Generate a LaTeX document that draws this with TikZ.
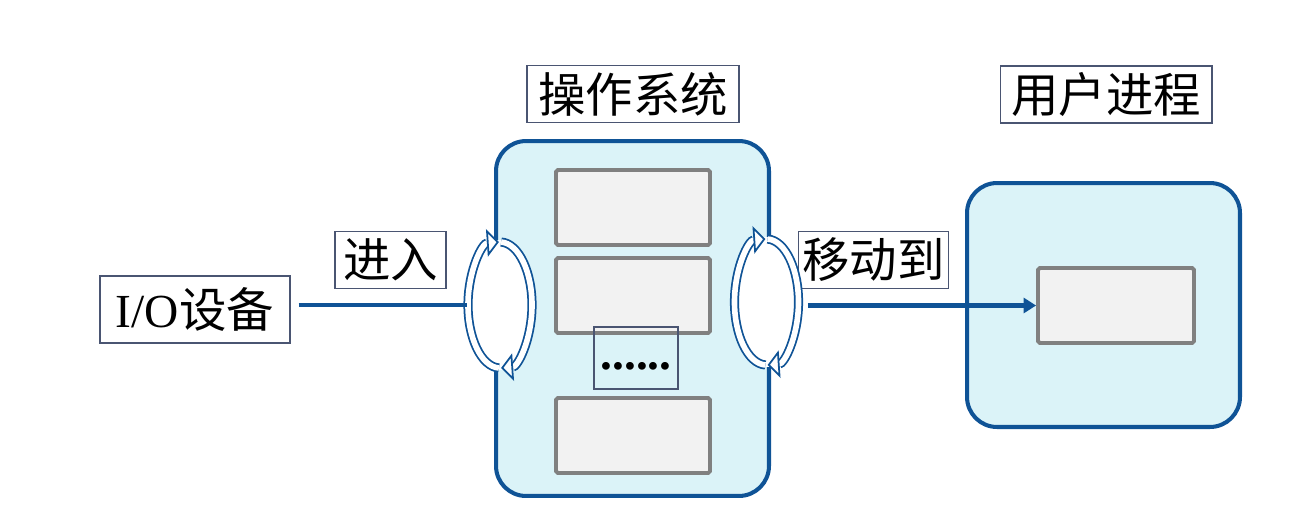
\documentclass[tikz,border=0pt]{standalone}
\usepackage{fontspec}
\setmainfont{Liberation Serif}
\newfontfamily\cjk{Noto Sans CJK SC}
\usetikzlibrary{arrows.meta,shapes.geometric}
\definecolor{cBlue}{HTML}{0F5396}
\definecolor{cPanel}{HTML}{DBF3F8}
\definecolor{cGray}{HTML}{808080}
\definecolor{cCell}{HTML}{F2F2F2}
\definecolor{cFrame}{HTML}{4A5572}
\newcommand{\bigfont}{\fontsize{27pt}{32pt}\selectfont}
\tikzset{
  panel/.style={draw=cBlue, line width=2.3pt, fill=cPanel, rounded corners=0.6cm, minimum width=5.46cm},
  cell/.style={draw=cGray, line width=2.2pt, fill=cCell, rounded corners=1pt, minimum width=3.08cm, minimum height=1.5cm},
  tag/.style={draw=cFrame, line width=0.6pt, fill=white, font=\bigfont\cjk, inner sep=2pt, minimum height=1.14cm},
  gate/.style={ellipse, fill=white, minimum width=1.32cm, minimum height=2.6cm, inner sep=0pt},
  swirl/.style={draw=cBlue, line width=1pt, double=white, double distance=3.2pt,
    -{Triangle[length=0.24cm, width=0.55cm, fill=white]}},
  flow/.style={draw=cBlue, line width=2.8pt, shorten <=0.16cm},
}

\begin{document}
\begin{tikzpicture}[x=0.02cm, y=-0.02cm]
  \useasboundingbox (0,0) rectangle (1312,518);
  % operating system
  \node[panel, minimum height=7.1cm] (os) at (632.5,318.5) {};
  \node[cell] (osA) at (633,207.5) {};
  \node[cell] (osB) at (633,295.5) {};
  \node[cell] (osC) at (633,435.5) {};
  \node[draw=cFrame, line width=0.6pt, minimum width=1.68cm, minimum height=1.24cm,
    inner sep=0pt, font=\bigfont\bfseries] (dots) at (636,358) {\strut......};
  % user process
  \node[panel, minimum height=4.88cm] (usr) at (1103.5,305) {};
  \node[cell, minimum width=3.12cm] (usrA) at (1116,305.5) {};
  % labels
  \node[tag, minimum width=4.24cm] (osT) at (633,94) {操作系统};
  \node[tag, minimum width=4.24cm] (usrT) at (1106,94.5) {用户进程};
  \node[tag, minimum width=3.8cm, minimum height=1.34cm] (io) at (195,309.5) {{\rmfamily I/O}设备};
  \node[tag, minimum width=2.22cm] (inT) at (390.5,260) {进入};
  \node[tag, minimum width=2.98cm] (mvT) at (873.5,260) {移动到};
  % circular arrows
  \node[gate] (gateL) at (500,305) {};
  \node[gate] (gateR) at (766.5,302) {};
  \draw[swirl] (gateL.center) ++(92:32 and 63) arc[start angle=92, end angle=268, x radius=32, y radius=63];
  \draw[swirl] (gateL.center) ++(272:32 and 63) arc[start angle=272, end angle=448, x radius=32, y radius=63];
  \draw[swirl] (gateR.center) ++(92:32 and 63) arc[start angle=92, end angle=268, x radius=32, y radius=63];
  \draw[swirl] (gateR.center) ++(272:32 and 63) arc[start angle=272, end angle=448, x radius=32, y radius=63];
  % connectors
  \draw[flow] (io.east |- gateL.west) -- (gateL.west);
  \draw[flow, -{Triangle[length=0.25cm, width=0.3cm]}] (gateR.east |- usrA.west) -- (usrA.west);
\end{tikzpicture}
\end{document}
